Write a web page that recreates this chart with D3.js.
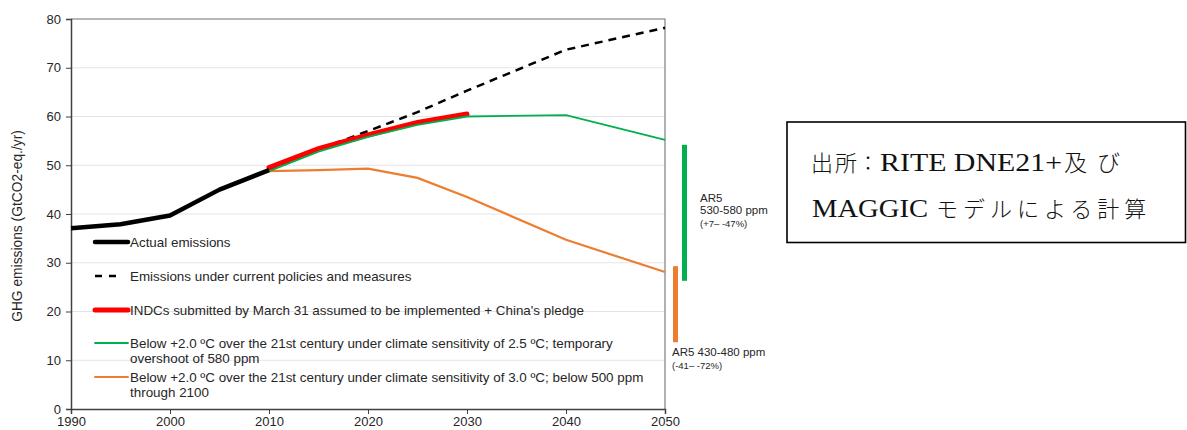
<!DOCTYPE html>
<html>
<head>
<meta charset="utf-8">
<script src="https://cdn.jsdelivr.net/npm/d3@7"></script>
<style>
  html, body { margin: 0; padding: 0; background: #fff; }
  svg { display: block; }
</style>
</head>
<body>
<svg id="chart" width="1187" height="430"></svg>
<script>
// Emission pathways (GtCO2-eq./yr)
const actualYears = [1990, 1995, 2000, 2005, 2010];
const actualValues = [37.1, 37.9, 39.7, 45.0, 49.0];

const scenarioYears = [2010, 2015, 2020, 2025, 2030, 2040, 2050];
const currentPolicyValues = [49.0, 53.3, 57.0, 60.9, 65.3, 73.7, 78.2];
const below2c25Values = [48.8, 52.8, 55.8, 58.3, 60.0, 60.3, 55.2];
const below2c30Values = [48.8, 49.0, 49.3, 47.4, 43.5, 34.7, 28.1];

const indcYears = [2010, 2015, 2020, 2025, 2030];
const indcValues = [49.5, 53.4, 56.2, 58.8, 60.5];

// AR5 2050 ranges
const ar5HighRange = [26.3, 54.2];   // 530-580 ppm
const ar5LowRange = [13.7, 29.3];    // 430-480 ppm

const xTicks = [1990, 2000, 2010, 2020, 2030, 2040, 2050];
const yTicks = [0, 10, 20, 30, 40, 50, 60, 70, 80];

const legendLabels = [
  ["Actual emissions"],
  ["Emissions under current policies and measures"],
  ["INDCs submitted by March 31 assumed to be implemented + China's pledge"],
  ["Below +2.0 ºC over the 21st century under climate sensitivity of 2.5 ºC; temporary", "overshoot of 580 ppm"],
  ["Below +2.0 ºC over the 21st century under climate sensitivity of 3.0 ºC; below 500 ppm", "through 2100"]
];

const GREEN = "#00b050";
const ORANGE = "#ed7d31";
const RED = "#ff0000";

const svg = d3.select("#chart");
const plotLeft = 71, plotRight = 665, plotTop = 19, plotBottom = 409;

const x = d3.scaleLinear().domain([1990, 2050]).range([plotLeft, plotRight]);
const y = d3.scaleLinear().domain([0, 80]).range([plotBottom, plotTop]);

const font = "Liberation Sans, Arial, sans-serif";

// gridlines
svg.append("g")
  .selectAll("line")
  .data(yTicks.filter(d => d > 0))
  .join("line")
  .attr("x1", plotLeft).attr("x2", plotRight)
  .attr("y1", d => y(d)).attr("y2", d => y(d))
  .attr("stroke", "#e4e4e4").attr("stroke-width", 1);

// frame (top and right)
svg.append("path")
  .attr("d", `M${plotLeft},${plotTop}H${plotRight}V${plotBottom}`)
  .attr("fill", "none").attr("stroke", "#7f7f7f").attr("stroke-width", 1.2);

// axes
const yAxis = svg.append("g")
  .attr("transform", `translate(${plotLeft},0)`)
  .call(d3.axisLeft(y).tickValues(yTicks).tickSize(5).tickPadding(5));
const xAxis = svg.append("g")
  .attr("transform", `translate(0,${plotBottom})`)
  .call(d3.axisBottom(x).tickValues(xTicks).tickFormat(d3.format("d")).tickSize(5).tickPadding(3));

[yAxis, xAxis].forEach(g => {
  g.select(".domain").attr("stroke", "#404040").attr("stroke-width", 1.5);
  g.selectAll(".tick line").attr("stroke", "#404040");
  g.selectAll(".tick text")
    .attr("fill", "#262626")
    .style("font-family", font)
    .style("font-size", "13px");
});

// y-axis title
svg.append("text")
  .attr("transform", `translate(22,${(plotTop + plotBottom) / 2 + 12}) rotate(-90)`)
  .attr("text-anchor", "middle")
  .style("font-family", font)
  .style("font-size", "13.8px")
  .attr("fill", "#262626")
  .text("GHG emissions (GtCO2-eq./yr)");

const line = d3.line().x(d => x(d[0])).y(d => y(d[1]));
const zip = (xs, vs) => xs.map((v, i) => [v, vs[i]]);

// series
svg.append("path").datum(zip(scenarioYears, below2c30Values))
  .attr("d", line).attr("fill", "none").attr("stroke", ORANGE).attr("stroke-width", 2.2);
svg.append("path").datum(zip(scenarioYears, currentPolicyValues))
  .attr("d", line).attr("fill", "none").attr("stroke", "#000").attr("stroke-width", 2.5)
  .attr("stroke-dasharray", "8,6");
svg.append("path").datum(zip(indcYears, indcValues))
  .attr("d", line).attr("fill", "none").attr("stroke", RED).attr("stroke-width", 5)
  .attr("stroke-linecap", "round");
svg.append("path").datum(zip(scenarioYears, below2c25Values))
  .attr("d", line).attr("fill", "none").attr("stroke", GREEN).attr("stroke-width", 1.8);
svg.append("path").datum(zip(actualYears, actualValues))
  .attr("d", line).attr("fill", "none").attr("stroke", "#000").attr("stroke-width", 4.5)
  .attr("stroke-linejoin", "round");

// AR5 range bars
svg.append("rect")
  .attr("x", 682).attr("width", 5)
  .attr("y", y(ar5HighRange[1])).attr("height", y(ar5HighRange[0]) - y(ar5HighRange[1]))
  .attr("fill", GREEN);
svg.append("rect")
  .attr("x", 673).attr("width", 5)
  .attr("y", y(ar5LowRange[1])).attr("height", y(ar5LowRange[0]) - y(ar5LowRange[1]))
  .attr("fill", ORANGE);

const note = (tx, ty, txt, size) => svg.append("text")
  .attr("x", tx).attr("y", ty)
  .style("font-family", font).style("font-size", size)
  .attr("fill", "#262626").text(txt);
note(700, 202, "AR5", "11.5px");
note(700, 214, "530-580 ppm", "11.5px");
note(700, 227, "(+7– -47%)", "9.5px");
note(672, 356, "AR5 430-480 ppm", "11.5px");
note(672, 369, "(-41– -72%)", "9.5px");

// legend
const legendRows = [242, 276, 310, 343, 377];
const legendStyles = [
  { stroke: "#000", w: 4.5, dash: null, x2: 128 },
  { stroke: "#000", w: 2.5, dash: "7,7", x2: 122 },
  { stroke: RED, w: 5, dash: null, x2: 128 },
  { stroke: GREEN, w: 1.8, dash: null, x2: 128 },
  { stroke: ORANGE, w: 2.2, dash: null, x2: 128 }
];
const legend = svg.append("g");
legendLabels.forEach((lines, i) => {
  const st = legendStyles[i];
  const ly = legendRows[i];
  const l = legend.append("line")
    .attr("x1", 95).attr("x2", st.x2).attr("y1", ly).attr("y2", ly)
    .attr("stroke", st.stroke).attr("stroke-width", st.w)
    .attr("stroke-linecap", i === 1 ? "butt" : "round");
  if (st.dash) l.attr("stroke-dasharray", st.dash);
  const t = legend.append("text")
    .attr("x", 130).attr("y", ly + 5)
    .style("font-family", font).style("font-size", "13.4px")
    .attr("fill", "#262626");
  lines.forEach((s, j) => {
    t.append("tspan").attr("x", 130).attr("dy", j === 0 ? 0 : 15).text(s);
  });
});

// source note box
svg.append("rect")
  .attr("x", 787).attr("y", 122).attr("width", 398.5).attr("height", 120.5)
  .attr("fill", "#fff").attr("stroke", "#000").attr("stroke-width", 1.6);

const cjkFont = "'Noto Sans CJK JP', sans-serif";
const latinFont = "'Liberation Serif', 'DejaVu Serif', serif";
// each run: text, position, font and either a fitted width or letter spacing
const sourceRuns = [
  { t: "出所", x: 811, f: cjkFont, s: 22, y: 171, ls: 2 },
  { t: "：", x: 858, f: cjkFont, s: 20, y: 171, ls: 0 },
  { t: "RITE DNE21+", x: 880, w: 182, f: latinFont, s: 25.5, y: 171 },
  { t: "及び", x: 1064, f: cjkFont, s: 23, y: 171, ls: 10 },
  { t: "MAGGIC", x: 812, w: 116, f: latinFont, s: 25.5, y: 217 },
  { t: "モデルによる計算", x: 936, f: cjkFont, s: 22, y: 217, ls: 5 }
];
sourceRuns.forEach(r => {
  const t = svg.append("text")
    .attr("x", r.x).attr("y", r.y)
    .style("font-family", r.f).style("font-size", r.s + "px")
    .attr("fill", "#111")
    .text(r.t);
  if (r.w) t.attr("textLength", r.w).attr("lengthAdjust", "spacingAndGlyphs");
  else t.style("letter-spacing", r.ls + "px").style("font-weight", 300);
});
</script>
</body>
</html>
